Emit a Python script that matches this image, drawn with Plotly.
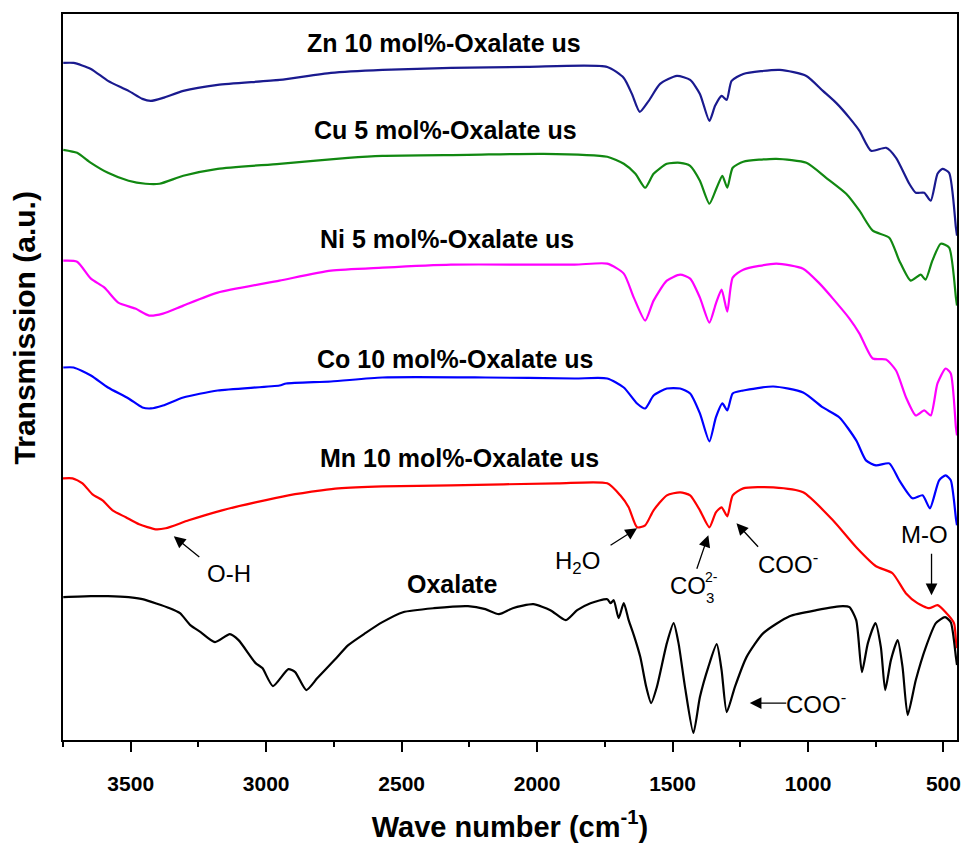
import plotly.graph_objects as go

# FTIR spectra (transmission, arbitrary units, already vertically offset)
zn_wn = [3749, 3711, 3647, 3584, 3508, 3457, 3426, 3381, 3306, 3179, 2951, 2761, 2571, 2318, 2039,
         1741, 1680, 1650, 1621, 1588, 1546, 1484, 1435, 1399, 1364, 1343, 1319, 1300, 1282, 1239,
         1104, 1006, 945, 896, 847, 810, 767, 712, 675, 626, 602, 571, 547, 522, 504, 479, 454, 450]
zn_t = [678, 678, 672, 660, 650, 642, 640, 643, 650, 656, 661, 668, 671, 673, 674,
        674, 663, 647, 629, 640, 657, 665, 661, 647, 620, 635, 645, 641, 660, 667,
        671, 665, 650, 638, 623, 610, 590, 593, 583, 557, 548, 548, 540, 567, 572, 568, 513, 505]

cu_wn = [3749, 3698, 3647, 3584, 3508, 3445, 3394, 3306, 3179, 2951, 2698, 2571, 2255, 1976,
         1741, 1680, 1637, 1601, 1570, 1521, 1472, 1435, 1399, 1364, 1337, 1316, 1298, 1278, 1239,
         1117, 1006, 933, 859, 810, 761, 700, 663, 621, 584, 566, 541, 510, 479, 454, 450]
cu_t = [591, 588, 578, 568, 560, 557, 557, 565, 572, 577, 583, 585, 586, 587,
        584, 577, 567, 553, 567, 577, 578, 575, 560, 537, 553, 565, 553, 573, 579,
        582, 578, 563, 547, 530, 510, 503, 480, 460, 466, 461, 480, 497, 493, 443, 435]

ni_wn = [3749, 3698, 3647, 3597, 3546, 3483, 3432, 3381, 3306, 3179, 2951, 2761, 2571, 2318, 1862,
         1741, 1680, 1643, 1601, 1570, 1521, 1472, 1435, 1399, 1364, 1340, 1319, 1298, 1278, 1239,
         1117, 1018, 957, 908, 847, 810, 761, 712, 675, 638, 602, 571, 547, 522, 492, 473, 454, 450]
ni_t = [480, 479, 462, 453, 438, 432, 425, 427, 435, 448, 460, 470, 473, 476, 476,
        477, 467, 443, 420, 440, 460, 466, 462, 443, 418, 437, 451, 429, 463, 471,
        477, 472, 457, 442, 422, 407, 382, 381, 370, 343, 325, 330, 325, 357, 372, 367, 313, 305]

co_wn = [3749, 3711, 3647, 3584, 3508, 3457, 3426, 3381, 3306, 3179, 2951, 2926, 2761, 2571, 2191, 1862,
         1741, 1680, 1631, 1601, 1570, 1521, 1472, 1435, 1399, 1364, 1340, 1316, 1298, 1278, 1239,
         1128, 1018, 945, 884, 822, 786, 749, 700, 663, 614, 577, 550, 516, 492, 473, 454, 450]
co_t = [373, 373, 365, 353, 342, 333, 332, 335, 343, 350, 355, 357, 359, 363, 363, 362,
        362, 353, 337, 332, 345, 352, 352, 347, 327, 299, 323, 337, 330, 347, 350,
        354, 348, 333, 323, 300, 280, 275, 277, 260, 242, 245, 232, 260, 265, 260, 222, 215]

mn_wn = [3751, 3715, 3678, 3641, 3604, 3567, 3518, 3469, 3408, 3371, 3286, 3163, 3040, 2918, 2796, 2734,
         2571, 2318, 1925,
         1741, 1693, 1662, 1631, 1601, 1570, 1521, 1472, 1435, 1399, 1364, 1340, 1319, 1298, 1278, 1239,
         1128, 1018, 908, 822, 749, 688, 639, 596, 553, 522, 492, 461, 454, 450]
mn_t = [262, 262, 257, 246, 240, 230, 223, 216, 211, 212, 220, 230, 238, 245, 250, 252,
        254, 255, 257,
        257, 245, 233, 213, 215, 230, 245, 248, 245, 230, 213, 228, 233, 224, 245, 252,
        253, 248, 220, 193, 174, 167, 147, 137, 132, 135, 128, 117, 100, 92]

ox_wn = [3749, 3647, 3584, 3508, 3457, 3356, 3318, 3280, 3242, 3189, 3134, 3102, 3039, 3014, 2975,
         2918, 2893, 2852, 2811, 2748, 2697, 2634, 2571, 2495, 2381, 2255, 2191, 2141, 2090, 2014,
         1951, 1894, 1852, 1803, 1741, 1729, 1717, 1699, 1680, 1662, 1643, 1619, 1597, 1579, 1558,
         1521, 1496, 1478, 1454, 1423, 1399, 1368, 1337, 1319, 1300, 1270, 1227, 1165, 1068, 969,
         871, 847, 822, 801, 779, 751, 731, 715, 694, 669, 651, 632, 602, 565, 528, 494, 473, 454, 450]
ox_t = [143, 144, 144, 143, 141, 132, 127, 115, 108, 98, 106, 100, 77, 72, 54,
        71, 68, 50, 62, 80, 95, 107, 118, 128, 132, 134, 131, 126, 132, 136,
        130, 120, 130, 137, 141, 137, 140, 122, 137, 120, 105, 83, 53, 37, 53,
        97, 117, 97, 53, 7, 43, 73, 96, 70, 28, 53, 83, 107, 124, 130,
        134, 133, 120, 68, 97, 117, 93, 50, 80, 100, 73, 25, 60, 93, 117, 123, 118, 83, 75]

series = [
    ("Zn 10 mol%-Oxalate us", zn_wn, zn_t, "#1a1a8f"),
    ("Cu 5 mol%-Oxalate us", cu_wn, cu_t, "#118811"),
    ("Ni 5 mol%-Oxalate us", ni_wn, ni_t, "#ff00ff"),
    ("Co 10 mol%-Oxalate us", co_wn, co_t, "#0000ff"),
    ("Mn 10 mol%-Oxalate us", mn_wn, mn_t, "#ff0000"),
    ("Oxalate", ox_wn, ox_t, "#000000"),
]

FONT = "Liberation Sans, Arial, sans-serif"

fig = go.Figure()
for name, wn, t, color in series:
    fig.add_trace(go.Scatter(x=wn, y=t, mode="lines", name=name,
                             line=dict(color=color, width=2.2, shape="spline", smoothing=0.6)))

# curve labels: (text, wavenumber, level)
labels = [
    ("Zn 10 mol%-Oxalate us", 2344, 698),
    ("Cu 5 mol%-Oxalate us", 2337, 611),
    ("Ni 5 mol%-Oxalate us", 2333, 502),
    ("Co 10 mol%-Oxalate us", 2304, 382),
    ("Mn 10 mol%-Oxalate us", 2286, 282),
    ("Oxalate", 2315, 156),
]
for txt, xw, yv in labels:
    fig.add_annotation(x=xw, y=yv, text=f"<b>{txt}</b>", showarrow=False,
                       font=dict(family=FONT, size=25, color="black"))

# band assignments
notes = [
    ("O-H", 3139, 167, 24),
    ("H<sub>2</sub>O", 1852, 178, 24),
    ("CO", 1444, 155, 24),
    ("2-", 1356, 163, 14),
    ("3", 1363, 143, 15),
    ("COO<sup>-</sup>", 1072, 177, 24),
    ("COO<sup>-</sup>", 969, 37, 24),
    ("M-O", 569, 206, 24),
]
for txt, xw, yv, sz in notes:
    fig.add_annotation(x=xw, y=yv, text=txt, showarrow=False,
                       font=dict(family=FONT, size=sz, color="black"))

# arrows: head position and tail offset in pixels
arrows = [
    (3341, 204, 27, 22),
    (1631, 212, -28, 18),
    (1368, 205, -12, 35),
    (1264, 217, 23, 25),
    (1215, 37, 38, 0),
    (544, 145, 0, -43),
]
for xw, yv, ax, ay in arrows:
    fig.add_annotation(x=xw, y=yv, ax=ax, ay=ay, text="", showarrow=True,
                       arrowhead=2, arrowsize=1.8, arrowwidth=1.3, arrowcolor="black")

fig.add_annotation(xref="paper", yref="paper", x=-0.0435, y=0.567, xanchor="center", yanchor="middle",
                   text="<b>Transmission (a.u.)</b>", textangle=-90, showarrow=False,
                   font=dict(family=FONT, size=30, color="black"))

fig.update_layout(
    width=973, height=855,
    margin=dict(l=63, r=12, t=13, b=115),
    paper_bgcolor="white", plot_bgcolor="white",
    showlegend=False,
    font=dict(family=FONT, color="black"),
    xaxis=dict(range=[3750, 450], showgrid=False, zeroline=False,
               showline=True, linewidth=2, linecolor="black", mirror=True,
               tickvals=[3500, 3000, 2500, 2000, 1500, 1000, 500],
               ticktext=["<b>3500</b>", "<b>3000</b>", "<b>2500</b>", "<b>2000</b>",
                         "<b>1500</b>", "<b>1000</b>", "<b>500</b>"],
               ticks="outside", ticklen=10, tickwidth=2, tickcolor="black",
               ticklabelstandoff=14,
               tickfont=dict(family=FONT, size=21, color="black"),
               minor=dict(dtick=250, tick0=0, ticks="outside", ticklen=5, tickwidth=2, tickcolor="black"),
               title=dict(text="<b>Wave number (cm<sup>-1</sup>)</b>", standoff=22,
                          font=dict(family=FONT, size=29, color="black"))),
    yaxis=dict(range=[0, 727], showgrid=False, zeroline=False,
               showline=True, linewidth=2, linecolor="black", mirror=True,
               showticklabels=False, ticks=""),
)

fig.write_html("out.html")
